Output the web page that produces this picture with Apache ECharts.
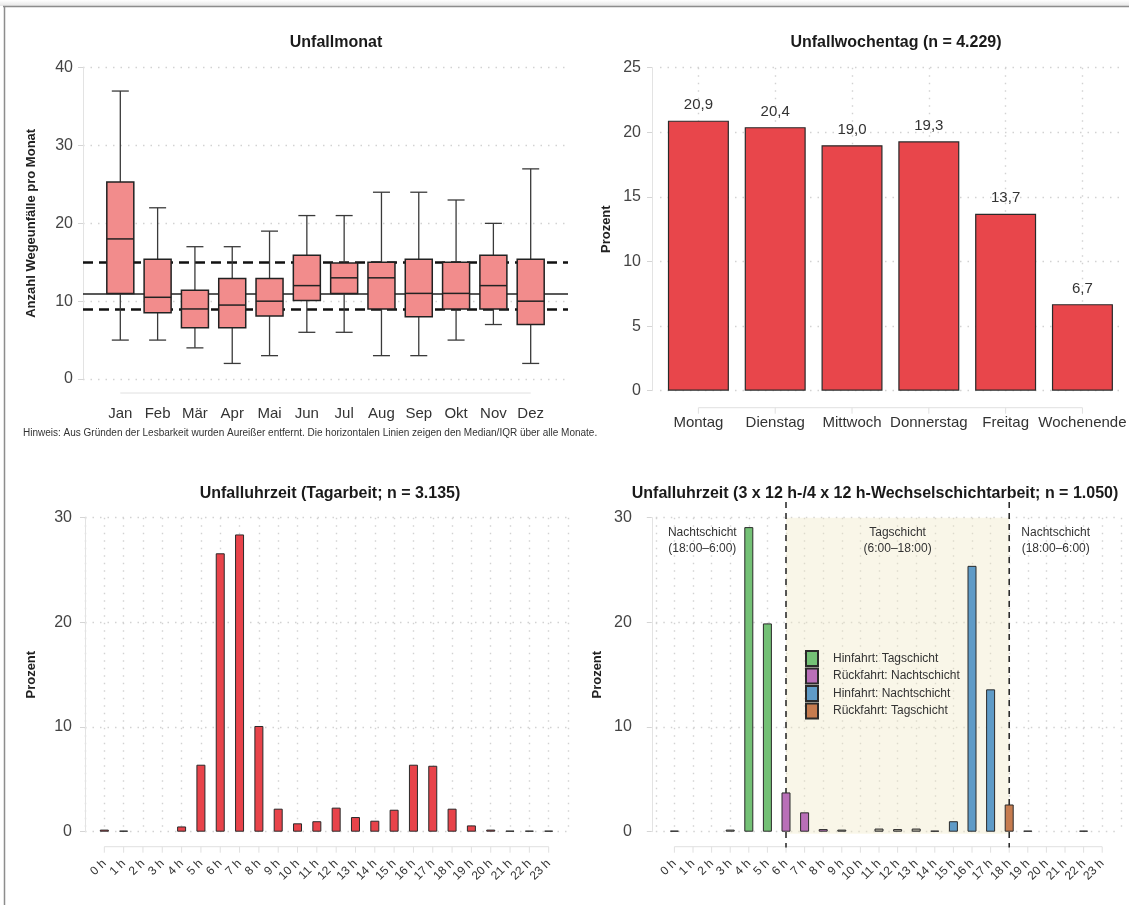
<!DOCTYPE html>
<html>
<head>
<meta charset="utf-8">
<script src="https://cdn.jsdelivr.net/npm/echarts@6.0.0/dist/echarts.min.js"></script>
<style>
  html, body { margin: 0; padding: 0; background: #fff; }
  #chart { width: 1129px; height: 905px; }
</style>
</head>
<body>
<div id="chart"></div>
<script>
// ---- Unfallmonat: Wegeunfälle pro Monat (Boxplot-Kennwerte) ----
const months = ['Jan', 'Feb', 'Mär', 'Apr', 'Mai', 'Jun', 'Jul', 'Aug', 'Sep', 'Okt', 'Nov', 'Dez'];
const whiskerLow  = [5, 5, 4, 2, 3, 6, 6, 3, 3, 5, 7, 2];
const quartile1   = [11, 8.5, 6.6, 6.6, 8.1, 10.1, 11, 9, 8, 9, 9, 7];
const medianMonth = [18, 10.5, 9, 9.5, 10, 12, 13, 13, 11, 11, 12, 10];
const quartile3   = [25.3, 15.4, 11.4, 12.9, 12.9, 15.9, 14.9, 15, 15.4, 15, 15.9, 15.4];
const whiskerHigh = [37, 22, 17, 17, 19, 21, 21, 24, 24, 23, 20, 27];
// Median und IQR über alle Monate
const overallMedian = 11;
const overallQ1 = 9;
const overallQ3 = 15;
const monthTicks = [0, 10, 20, 30, 40];

// ---- Unfallwochentag (n = 4.229), Prozent ----
const weekdays = ['Montag', 'Dienstag', 'Mittwoch', 'Donnerstag', 'Freitag', 'Wochenende'];
const weekdayPercent = [20.9, 20.4, 19.0, 19.3, 13.7, 6.7];

// ---- Unfalluhrzeit, Stunden 0–23 ----
const hours = ['0 h', '1 h', '2 h', '3 h', '4 h', '5 h', '6 h', '7 h', '8 h', '9 h', '10 h', '11 h',
               '12 h', '13 h', '14 h', '15 h', '16 h', '17 h', '18 h', '19 h', '20 h', '21 h', '22 h', '23 h'];
// Tagarbeit (n = 3.135), Prozent
const dayWorkPercent = [0.2, 0.1, 0, 0, 0.5, 6.4, 26.6, 28.4, 10.1, 2.2, 0.8, 1.0,
                        2.3, 1.4, 1.05, 2.1, 6.4, 6.3, 2.2, 0.6, 0.2, 0.1, 0.1, 0.1];
// Wechselschichtarbeit (n = 1.050), Prozent je Fahrtart
const hinTagschicht    = [0, 0, 0, 0, 29.1, 19.9, 0, 0, 0, 0, 0, 0, 0, 0, 0, 0, 0, 0, 0, 0, 0, 0, 0, 0];
const rueckNachtschicht= [0, 0, 0, 0, 0, 0, 3.75, 1.85, 0.25, 0, 0, 0, 0, 0, 0, 0, 0, 0, 0, 0, 0, 0, 0, 0];
const hinNachtschicht  = [0, 0, 0, 0, 0, 0, 0, 0, 0, 0, 0, 0, 0, 0, 0, 1.0, 25.4, 13.6, 0, 0, 0, 0, 0, 0];
const rueckTagschicht  = [0, 0, 0, 0, 0, 0, 0, 0, 0, 0, 0, 0, 0, 0, 0, 0, 0, 0, 2.6, 0, 0, 0, 0, 0];
const sonstigeFahrten  = [0.1, 0, 0, 0.2, 0, 0, 0, 0, 0, 0.2, 0, 0.3, 0.25, 0.3, 0.1, 0, 0, 0, 0, 0.1, 0, 0, 0.1, 0];
const shiftLegend = ['Hinfahrt: Tagschicht', 'Rückfahrt: Nachtschicht', 'Hinfahrt: Nachtschicht', 'Rückfahrt: Tagschicht'];
const shiftColors = ['#74c176', '#b96fb8', '#5f9bc7', '#c67c4f'];
const otherColor = '#b9b5a5';
const dayShiftStart = '6 h';
const dayShiftEnd = '18 h';

const FONT = "'Liberation Sans', Arial, sans-serif";
const INK = '#333';
const dotted = { color: '#d2d2d2', width: 1.4, type: [1.5, 6] };

// hour/value pairs, empty hours are left out
const pairs = (vals) => hours.map((h, i) => [h, vals[i]]).filter(p => p[1] > 0);
const decimalComma = (v) => v.toFixed(1).replace('.', ',');

const chart = echarts.init(document.getElementById('chart'), null, { renderer: 'canvas' });

function yAxisBase(grid, max, interval, name, nameGap, labelMargin, offset) {
  return {
    gridIndex: grid, type: 'value', min: 0, max: max, interval: interval, offset: offset || 0,
    name: name, nameLocation: 'middle', nameGap: nameGap,
    nameTextStyle: { fontFamily: FONT, fontWeight: 'bold', fontSize: 13, color: '#222' },
    axisLine: { show: true, lineStyle: { color: '#e3e3e3', width: 1 } },
    axisTick: { show: true, length: 5, lineStyle: { color: '#d5d5d5' } },
    axisLabel: { fontFamily: FONT, fontSize: 16, color: '#444', margin: labelMargin },
    splitLine: { show: true, lineStyle: dotted }
  };
}

const option = {
  animation: false,
  backgroundColor: '#fff',
  textStyle: { fontFamily: FONT },
  title: [
    { text: 'Unfallmonat', left: 331, top: 30, textAlign: 'center' },
    { text: 'Unfallwochentag (n = 4.229)', left: 891, top: 30, textAlign: 'center' },
    { text: 'Unfalluhrzeit (Tagarbeit; n = 3.135)', left: 325, top: 481, textAlign: 'center' },
    { text: 'Unfalluhrzeit (3 x 12 h-/4 x 12 h-Wechselschichtarbeit; n = 1.050)', left: 870, top: 481, textAlign: 'center' }
  ].map(t => Object.assign(t, { textStyle: { fontFamily: FONT, fontWeight: 'bold', fontSize: 16, color: '#1a1a1a' } })),
  grid: [
    { left: 83, top: 67.7, width: 485, height: 311.3 },
    { left: 660, top: 67.7, width: 466.8, height: 323 },
    { left: 85, top: 517.7, width: 483, height: 314 },
    { left: 655.8, top: 517.7, width: 465, height: 314 }
  ],
  xAxis: [
    {
      gridIndex: 0, type: 'category', data: [''].concat(months, ['']), boundaryGap: false,
      axisLine: { show: false }, axisTick: { show: false }, splitLine: { show: false },
      axisLabel: { interval: 0, fontFamily: FONT, fontSize: 15, color: INK, margin: 27 }
    },
    {
      gridIndex: 1, type: 'category', data: weekdays,
      axisLine: { show: false }, axisTick: { show: false },
      splitLine: { show: true, alignWithLabel: true, lineStyle: dotted },
      axisLabel: { interval: 0, fontFamily: FONT, fontSize: 15, color: INK, margin: 25 }
    },
    {
      gridIndex: 2, type: 'category', data: [''].concat(hours, ['']), boundaryGap: false,
      axisLine: { show: false }, axisTick: { show: false },
      splitLine: { show: true, interval: 0, lineStyle: dotted },
      axisLabel: { interval: 0, rotate: 45, fontFamily: FONT, fontSize: 12, color: INK, margin: 30 }
    },
    {
      gridIndex: 3, type: 'category', data: [''].concat(hours, ['']), boundaryGap: false,
      axisLine: { show: false }, axisTick: { show: false },
      splitLine: { show: true, interval: 0, lineStyle: dotted },
      axisLabel: { interval: 0, rotate: 45, fontFamily: FONT, fontSize: 12, color: INK, margin: 30 }
    }
  ],
  yAxis: [
    yAxisBase(0, monthTicks[monthTicks.length - 1], 10, 'Anzahl Wegeunfälle pro Monat', 45, 10),
    yAxisBase(1, 25, 5, 'Prozent', 39, 11, 8),
    yAxisBase(2, 30, 10, 'Prozent', 47, 13),
    yAxisBase(3, 30, 10, 'Prozent', 48, 20, 4)
  ],
  legend: {
    data: shiftLegend, orient: 'vertical', left: 800, top: 645,
    itemWidth: 12, itemHeight: 15, itemGap: 0.5, icon: 'rect', selectedMode: false,
    textStyle: { fontFamily: FONT, fontSize: 12, color: INK, padding: [0, 0, 0, 10] }
  },
  series: [
    {
      // reference lines: overall median and IQR
      type: 'line', xAxisIndex: 0, yAxisIndex: 0, data: [], silent: true,
      markLine: {
        z: 1, symbol: 'none', silent: true, label: { show: false },
        data: [
          { yAxis: overallMedian, lineStyle: { type: 'solid', width: 1.5, color: '#222' } },
          { yAxis: overallQ1, lineStyle: { type: [10, 6], width: 2.5, color: '#111' } },
          { yAxis: overallQ3, lineStyle: { type: [10, 6], width: 2.5, color: '#111' } }
        ]
      }
    },
    {
      type: 'custom', xAxisIndex: 0, yAxisIndex: 0, z: 3,
      data: months.map((m, i) => [m, whiskerLow[i], quartile1[i], medianMonth[i], quartile3[i], whiskerHigh[i]]),
      encode: { x: 0, y: [1, 2, 3, 4, 5] },
      renderItem: function (params, api) {
        const x = api.value(0);
        const low = api.coord([x, api.value(1)]);
        const q1 = api.coord([x, api.value(2)]);
        const med = api.coord([x, api.value(3)]);
        const q3 = api.coord([x, api.value(4)]);
        const high = api.coord([x, api.value(5)]);
        const cx = med[0], bw = 27, cw = 17;
        const wStyle = { stroke: '#3a3a3a', lineWidth: 1.3 };
        return {
          type: 'group',
          children: [
            { type: 'line', shape: { x1: cx, y1: high[1], x2: cx, y2: q3[1] }, style: wStyle },
            { type: 'line', shape: { x1: cx, y1: q1[1], x2: cx, y2: low[1] }, style: wStyle },
            { type: 'line', shape: { x1: cx - cw / 2, y1: high[1], x2: cx + cw / 2, y2: high[1] }, style: wStyle },
            { type: 'line', shape: { x1: cx - cw / 2, y1: low[1], x2: cx + cw / 2, y2: low[1] }, style: wStyle },
            { type: 'rect', shape: { x: cx - bw / 2, y: q3[1], width: bw, height: q1[1] - q3[1] },
              style: { fill: '#f28c8c', stroke: '#222', lineWidth: 1.5 } },
            { type: 'line', shape: { x1: cx - bw / 2, y1: med[1], x2: cx + bw / 2, y2: med[1] },
              style: { stroke: '#222', lineWidth: 1.5 } }
          ]
        };
      }
    },
    {
      type: 'bar', xAxisIndex: 1, yAxisIndex: 1, data: weekdayPercent, barWidth: 61,
      itemStyle: { color: '#e8464b', borderColor: '#2a2a2a', borderWidth: 1.2 },
      label: { show: true, position: 'top', distance: 8, fontFamily: FONT, fontSize: 15, color: INK,
               formatter: p => decimalComma(p.value) }
    },
    {
      type: 'bar', xAxisIndex: 2, yAxisIndex: 2, data: pairs(dayWorkPercent), barWidth: 9,
      itemStyle: { color: '#e8434a', borderColor: '#2a2a2a', borderWidth: 1 }
    },
    {
      name: 'Sonstige', type: 'bar', xAxisIndex: 3, yAxisIndex: 3, data: pairs(sonstigeFahrten),
      barWidth: 9, barGap: '-100%', z: 5,
      itemStyle: { color: otherColor, borderColor: '#2a2a2a', borderWidth: 1 }
    }
  ].concat([hinTagschicht, rueckNachtschicht, hinNachtschicht, rueckTagschicht].map((vals, k) => ({
    name: shiftLegend[k], type: 'bar', xAxisIndex: 3, yAxisIndex: 3, data: pairs(vals),
    barWidth: 9, barGap: '-100%', z: 5,
    itemStyle: { color: shiftColors[k], borderColor: '#2a2a2a', borderWidth: 1 }
  })))
};

chart.setOption(option);

// overlay elements placed through the axes' own scales
const px = (k, x, y) => chart.convertToPixel({ xAxisIndex: k, yAxisIndex: k }, [x, y]);
const frameStroke = { stroke: '#e0e0e0', lineWidth: 1 };
const gfx = [];

// day shift band (6 h – 18 h)
(function () {
  const a = px(3, dayShiftStart, 30), b = px(3, dayShiftEnd, 0);
  gfx.push({ type: 'rect', z: 1, silent: true,
    shape: { x: a[0], y: a[1], width: b[0] - a[0], height: b[1] - a[1] + 2 },
    style: { fill: 'rgba(238, 232, 195, 0.38)' } });
})();

function rangeFrame(k, cats, below, ticks) {
  const a = px(k, cats[0], 0), b = px(k, cats[cats.length - 1], 0);
  const y = a[1] + below;
  gfx.push({ type: 'line', shape: { x1: a[0], y1: y, x2: b[0], y2: y }, style: frameStroke, silent: true });
  if (ticks) {
    cats.forEach(c => {
      const p = px(k, c, 0);
      gfx.push({ type: 'line', shape: { x1: p[0], y1: y, x2: p[0], y2: y + 6 }, style: frameStroke, silent: true });
    });
  }
}
rangeFrame(0, months, 14, false);
rangeFrame(1, weekdays, 17, true);
rangeFrame(2, hours, 15, true);
rangeFrame(3, hours, 15, true);

// shift boundaries at 6 h and 18 h, drawn behind the bars
[dayShiftStart, dayShiftEnd].forEach(h => {
  const top = px(3, h, 31.5), bot = px(3, h, -1.5);
  gfx.push({ type: 'line', z: 2, silent: true,
    shape: { x1: top[0], y1: top[1], x2: bot[0], y2: bot[1] },
    style: { stroke: '#222', lineWidth: 1.5, lineDash: [6, 5] } });
});

// shift captions
const capTop = px(3, '0 h', 30)[1] + 7;
const mid = (a, b) => (px(3, a, 0)[0] + px(3, b, 0)[0]) / 2;
[
  { x: mid('0 h', '3 h'), text: 'Nachtschicht\n(18:00–6:00)' },
  { x: mid(dayShiftStart, dayShiftEnd), text: 'Tagschicht\n(6:00–18:00)' },
  { x: mid('19 h', '22 h'), text: 'Nachtschicht\n(18:00–6:00)' }
].forEach(c => gfx.push({
  type: 'text', x: c.x, y: capTop, z: 20, silent: true,
  style: { text: c.text, align: 'center', verticalAlign: 'top', fontFamily: FONT, fontSize: 12,
           lineHeight: 16, fill: INK }
}));

// footnote under the month panel
gfx.push({
  type: 'text', x: 23, y: 433, silent: true,
  style: { text: 'Hinweis: Aus Gründen der Lesbarkeit wurden Aureißer entfernt. Die horizontalen Linien zeigen den Median/IQR über alle Monate.',
           fontFamily: FONT, fontSize: 10, fill: INK, verticalAlign: 'middle' }
});

// page frame
gfx.push({ type: 'rect', silent: true, shape: { x: 0, y: 0, width: 1129, height: 6 },
  style: { fill: new echarts.graphic.LinearGradient(0, 0, 0, 1, [
    { offset: 0, color: '#ffffff' }, { offset: 1, color: '#e6e6e6' }]) } });
gfx.push({ type: 'line', silent: true, shape: { x1: 3, y1: 6.5, x2: 1129, y2: 6.5 }, style: { stroke: '#8d8d8d', lineWidth: 1.5 } });
gfx.push({ type: 'line', silent: true, shape: { x1: 4.5, y1: 6, x2: 4.5, y2: 905 }, style: { stroke: '#8d8d8d', lineWidth: 1.5 } });

chart.setOption({ graphic: gfx });
</script>
</body>
</html>
